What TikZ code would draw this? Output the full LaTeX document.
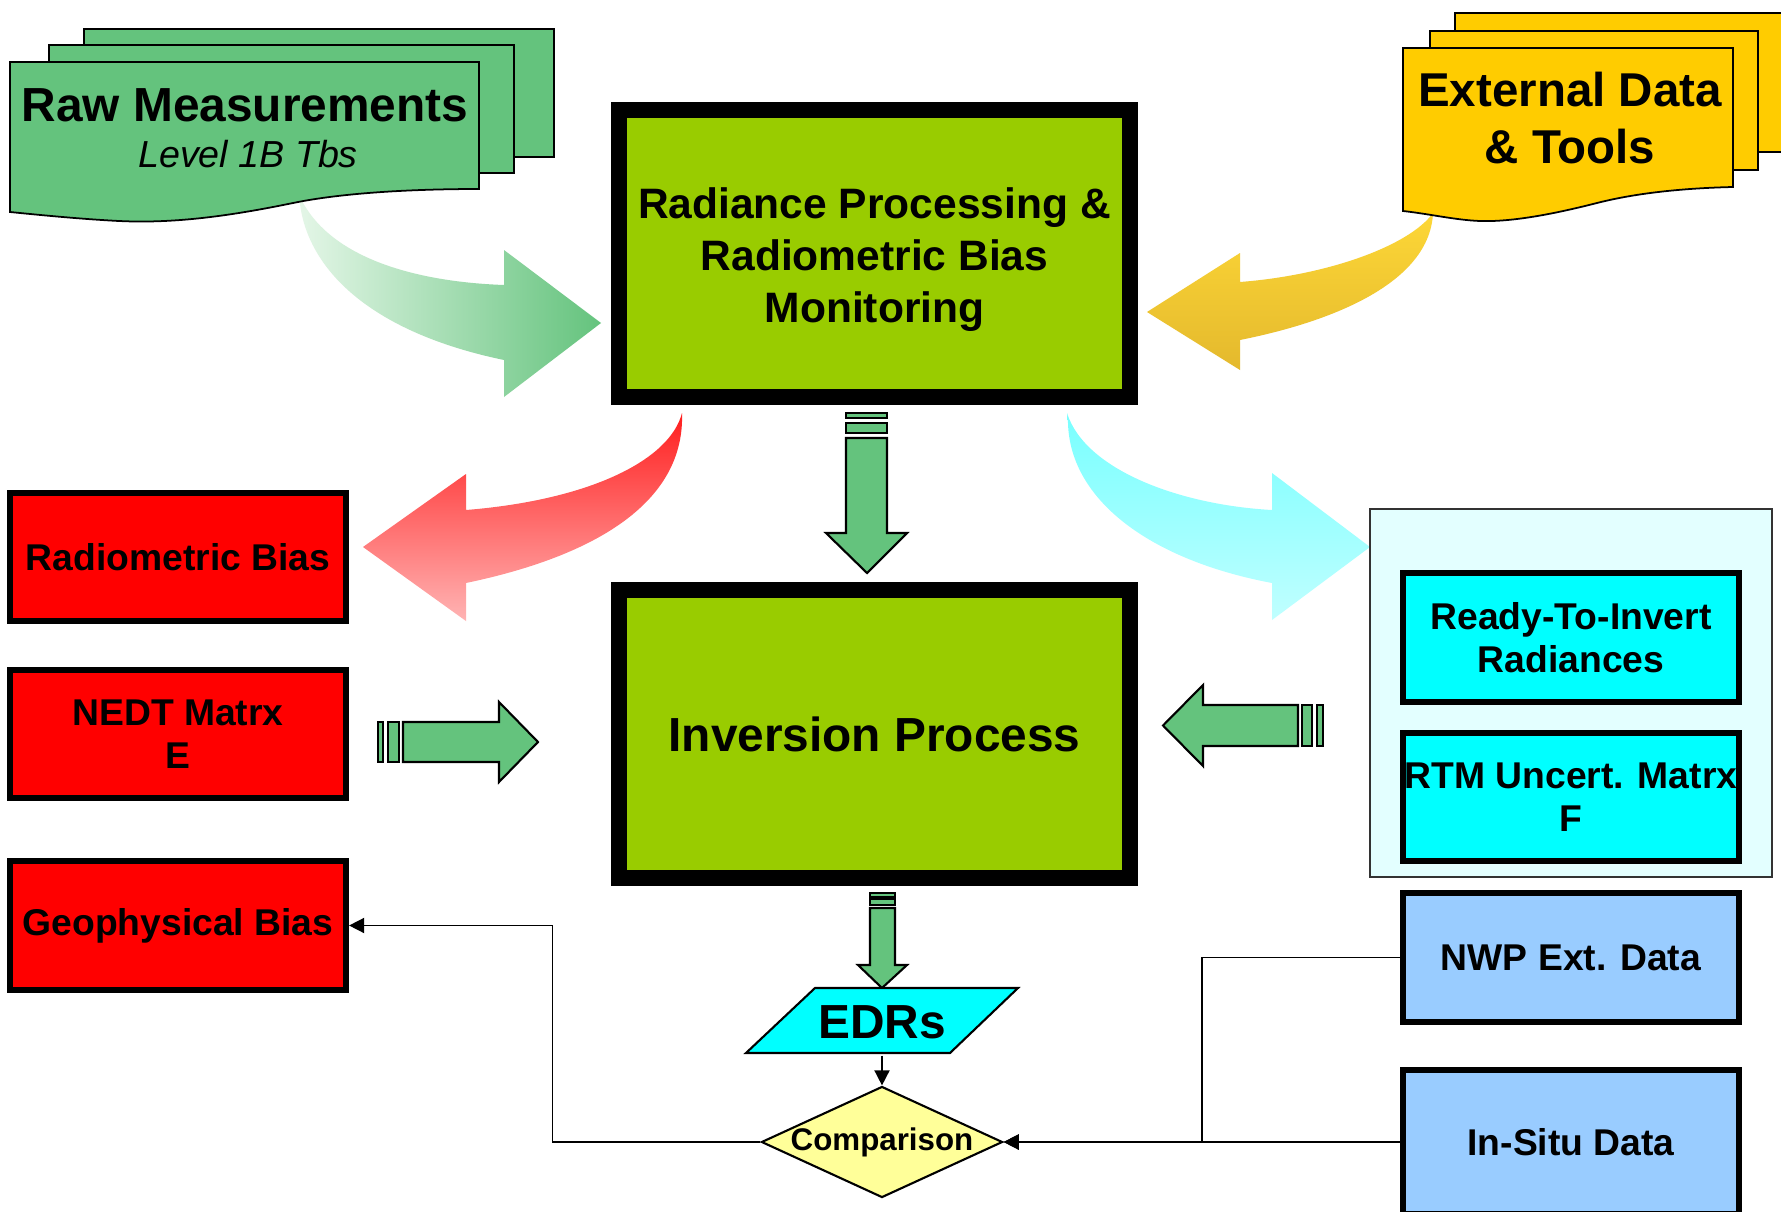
\documentclass[tikz,border=0pt]{standalone}
\usepackage{fontspec}
\setmainfont{Liberation Sans}
\usepackage{xcolor}
\usepackage{tikz}
\usetikzlibrary{calc,arrows.meta,positioning,shapes.geometric}

\definecolor{docgreen}{RGB}{100,195,125}
\definecolor{docyellow}{RGB}{255,204,0}
\definecolor{boxgreen}{RGB}{153,204,0}
\definecolor{boxred}{RGB}{255,0,0}
\definecolor{boxcyan}{RGB}{0,255,255}
\definecolor{boxblue}{RGB}{153,204,255}
\definecolor{panecyan}{RGB}{227,255,255}
\definecolor{compyellow}{RGB}{255,255,153}

\tikzset{
  mainbox/.style={draw=black, line width=0.16cm, fill=boxgreen, minimum width=5.11cm,
    minimum height=2.87cm, inner sep=0pt, align=center},
  smallbox/.style={draw=black, line width=0.06cm, minimum width=3.36cm, minimum height=1.28cm,
    inner sep=0pt, align=center, font=\fontsize{10.6}{12.4}\selectfont\bfseries},
  docline/.style={draw=black, line width=0.5pt},
  blockarrow/.style={draw=black, line width=0.6pt, fill=docgreen},
  conn/.style={draw=black, line width=0.45pt, -{Triangle[length=4.3pt,width=4.3pt]}},
}

\begin{document}
\begin{tikzpicture}[x=0.01cm,y=-0.01cm]

\useasboundingbox (0,0) rectangle (1781,1212);
\clip (0,0) rectangle (1781,1212);
\fill[white] (0,0) rectangle (1781,1212);

%%%%%%%%%%%%%%% curved arrows
\shade[left color={rgb,255:red,228;green,246;blue,231}, right color=docgreen]
  (299,190) .. controls (300,260) and (360,330) .. (504,360) -- (504,397) -- (601,323)
  -- (504,250) -- (504,285) .. controls (420,282) and (330,260) .. (300,197) -- cycle;

\shade[top color={rgb,255:red,253;green,215;blue,55}, bottom color={rgb,255:red,228;green,185;blue,45}]
  (1433,213) .. controls (1410,245) and (1330,275) .. (1240,282) -- (1240,253) -- (1147,312)
  -- (1240,370) -- (1240,340) .. controls (1340,320) and (1430,280) .. (1433,213) -- cycle;

\shade[top color={rgb,255:red,255;green,30;blue,30}, bottom color={rgb,255:red,255;green,180;blue,180}]
  (682,413) .. controls (670,460) and (590,500) .. (466,510) -- (466,474) -- (363,547)
  -- (466,621) -- (466,583) .. controls (600,555) and (685,500) .. (682,413) -- cycle;

\shade[top color={rgb,255:red,120;green,255;blue,255}, bottom color={rgb,255:red,192;green,255;blue,255}]
  (1067,413) .. controls (1085,470) and (1180,505) .. (1272,510) -- (1272,473) -- (1370,547)
  -- (1272,620) -- (1272,583) .. controls (1150,560) and (1070,500) .. (1068,423) -- cycle;

%%%%%%%%%%%%%%% documents
\draw[docline, fill=docgreen] (84,29) rectangle (554,157);
\draw[docline, fill=docgreen] (49,45) rectangle (514,173);
\draw[docline, fill=docgreen] (10,62) -- (479,62) -- (479,189)
  .. controls (420,189) and (350,192) .. (298,202)
  .. controls (240,214) and (180,224) .. (119,221)
  .. controls (80,219) and (40,215) .. (10,212) -- cycle;
\node (raw) [anchor=base, font=\fontsize{13.6}{16}\selectfont\bfseries] at (245,121) {Raw Measurements};
\node (rawlevel) [anchor=base, font=\fontsize{10.7}{13}\selectfont\itshape] at (248,167) {Level 1B Tbs};

\draw[docline, fill=docyellow] (1455,13) rectangle (1800,152);
\draw[docline, fill=docyellow] (1430,31) rectangle (1758,170);
\draw[docline, fill=docyellow] (1403,48) -- (1733,48) -- (1733,187)
  .. controls (1690,188) and (1640,192) .. (1597,203)
  .. controls (1550,215) and (1510,222) .. (1480,221)
  .. controls (1455,220) and (1430,214) .. (1403,211) -- cycle;
\node (ext) [align=center, font=\fontsize{13.5}{16}\selectfont\bfseries] at (1570,118) {External Data\\\& Tools};

%%%%%%%%%%%%%%% main boxes
\node (rad) [mainbox, font=\fontsize{12.1}{14.8}\selectfont\bfseries, text height=1.47cm] at (874.5,253.5)
  {Radiance Processing \&\\Radiometric Bias\\Monitoring};
\node (inv) [mainbox, font=\fontsize{13.6}{16}\selectfont\bfseries] at (874.5,734) {Inversion Process};

%%%%%%%%%%%%%%% left boxes
\node (radbias) [smallbox, fill=boxred] at (178,557) {Radiometric Bias};
\node (nedt) [smallbox, fill=boxred] at (178,734) {NEDT Matrx\\E};
\node (geo) [smallbox, fill=boxred] at (178,925.5) {Geophysical Bias};

%%%%%%%%%%%%%%% right boxes
\node (pane) [draw=black!80, line width=0.6pt, fill=panecyan, minimum width=4.02cm,
  minimum height=3.68cm] at (1571,693) {};
\node (ready) [smallbox, fill=boxcyan] at (1571,637.5) {Ready-To-Invert\\Radiances};
\node (rtm) [smallbox, fill=boxcyan] at (1571,797) {RTM Uncert. Matrx\\F};
\node (nwp) [smallbox, fill=boxblue] at (1571,957.5) {NWP Ext. Data};
\node (insitu) [smallbox, fill=boxblue, minimum height=1.44cm] at (1571,1142) {In-Situ Data};

%%%%%%%%%%%%%%% block arrows
\draw[blockarrow] (846,413) rectangle (887,418);
\draw[blockarrow] (846,423) rectangle (887,433);
\draw[blockarrow] (846,438) -- (887,438) -- (887,533) -- (907,533) -- (867,573)
  -- (826,533) -- (846,533) -- cycle;

\draw[blockarrow] (870,893) rectangle (895,897);
\draw[blockarrow] (870,899) rectangle (895,905);
\draw[blockarrow] (870,908) -- (895,908) -- (895,965) -- (907,965) -- (882,988)
  -- (858,965) -- (870,965) -- cycle;

\draw[blockarrow] (378,722) rectangle (383,762);
\draw[blockarrow] (388,722) rectangle (399,762);
\draw[blockarrow] (403,722) -- (499,722) -- (499,702) -- (538,742) -- (499,782)
  -- (499,762) -- (403,762) -- cycle;

\draw[blockarrow] (1317,705) rectangle (1323,746);
\draw[blockarrow] (1302,705) rectangle (1312,746);
\draw[blockarrow] (1298,705) -- (1203,705) -- (1203,685) -- (1163,725.5) -- (1203,766)
  -- (1203,746) -- (1298,746) -- cycle;

%%%%%%%%%%%%%%% EDRs and comparison
\draw[line width=0.6pt, fill=boxcyan] (815,988) -- (1018,988) -- (950,1053) -- (746,1053) -- cycle;
\node (edr) [minimum width=2.04cm, minimum height=0.65cm, inner sep=0pt,
  font=\fontsize{13.6}{16}\selectfont\bfseries] at (882,1022.5) {EDRs};

\node (comp) [shape=diamond, aspect=2.17, draw, line width=0.6pt, fill=compyellow, inner sep=-1pt,
  minimum width=2.41cm, minimum height=1.11cm, font=\fontsize{8.9}{10}\selectfont\bfseries]
  at (882,1142) {Comparison};

\draw[conn] (edr.south) -- (comp.north);
\draw[conn] (comp.west) -- ++(-208,0) |- (geo.east);
\draw[conn] (nwp.west) -- ++(-198,0) |- (comp.east);
\draw[conn] (insitu.west) -- (comp.east);

\end{tikzpicture}
\end{document}
